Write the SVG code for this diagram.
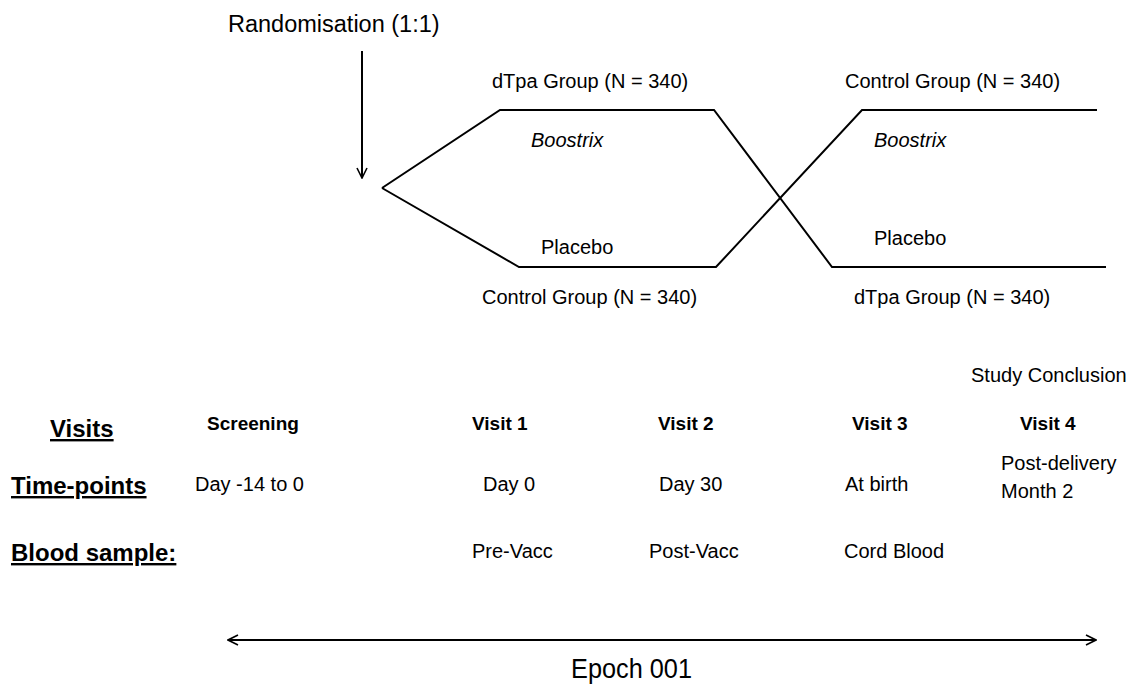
<svg xmlns="http://www.w3.org/2000/svg" width="1130" height="685" viewBox="0 0 1130 685">
<style>
text{font-family:"Liberation Sans",Arial,sans-serif;fill:#000}
.t{font-size:20px}
.b{font-size:19px;font-weight:bold}
.h{font-size:24px;font-weight:bold;text-decoration:underline}
.i{font-style:italic}
.ln{fill:none;stroke:#000;stroke-width:2}
</style>
<defs>
<marker id="ah" viewBox="0 0 12 12" refX="11" refY="6" markerWidth="12" markerHeight="12" markerUnits="userSpaceOnUse" orient="auto-start-reverse">
<polyline points="1,1 11,6 1,11" fill="none" stroke="#000" stroke-width="1.6"/>
</marker>
</defs>
<rect width="1130" height="685" fill="#fff"/>
<g id="connectors">
<line class="ln" x1="362" y1="51" x2="362" y2="178" stroke-width="1.6" marker-end="url(#ah)"/>
<polyline class="ln" points="382,188 500,110 714,110 832,267 1106,267"/>
<polyline class="ln" points="382,188 519,267 716,267 862,110 1097,110"/>
<line class="ln" x1="228" y1="640" x2="1096" y2="640" marker-start="url(#ah)" marker-end="url(#ah)"/>
</g>
<g id="randomisation"><text x="228" y="32" style="font-size:23.5px">Randomisation (1:1)</text></g>
<g id="dtpa-group-1"><text class="t" x="492" y="88">dTpa Group (N = 340)</text><text class="t i" x="531" y="147">Boostrix</text></g>
<g id="control-group-1"><text class="t" x="541" y="254">Placebo</text><text class="t" x="482" y="304">Control Group (N = 340)</text></g>
<g id="control-group-2"><text class="t" x="845" y="88">Control Group (N = 340)</text><text class="t i" x="874" y="147">Boostrix</text></g>
<g id="dtpa-group-2"><text class="t" x="874" y="245">Placebo</text><text class="t" x="854" y="304">dTpa Group (N = 340)</text></g>
<g id="row-headers">
<text class="h" x="50" y="437">Visits</text>
<text class="h" x="11" y="494">Time-points</text>
<text class="h" x="11" y="561">Blood sample:</text>
</g>
<g id="screening"><text class="b" x="207" y="430">Screening</text><text class="t" x="195" y="491">Day -14 to 0</text></g>
<g id="visit1"><text class="b" x="472" y="430">Visit 1</text><text class="t" x="483" y="491">Day 0</text><text class="t" x="472" y="558">Pre-Vacc</text></g>
<g id="visit2"><text class="b" x="658" y="430">Visit 2</text><text class="t" x="659" y="491">Day 30</text><text class="t" x="649" y="558">Post-Vacc</text></g>
<g id="visit3"><text class="b" x="852" y="430">Visit 3</text><text class="t" x="845" y="491">At birth</text><text class="t" x="844" y="558">Cord Blood</text></g>
<g id="visit4"><text class="t" x="971" y="382">Study Conclusion</text><text class="b" x="1020" y="430">Visit 4</text><text class="t" x="1001" y="470">Post-delivery</text><text class="t" x="1001" y="498">Month 2</text></g>
<g id="epoch"><text x="571" y="678" style="font-size:28px" textLength="121" lengthAdjust="spacingAndGlyphs">Epoch 001</text></g>
</svg>
